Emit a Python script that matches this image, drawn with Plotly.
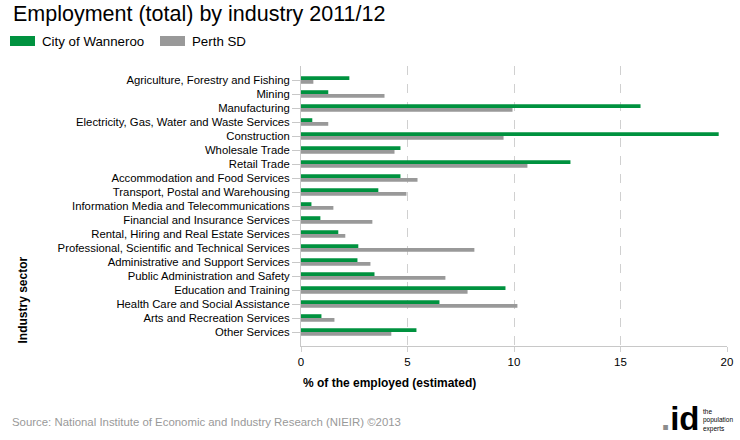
import plotly.graph_objects as go

# Données
industries = [
    "Agriculture, Forestry and Fishing",
    "Mining",
    "Manufacturing",
    "Electricity, Gas, Water and Waste Services",
    "Construction",
    "Wholesale Trade",
    "Retail Trade",
    "Accommodation and Food Services",
    "Transport, Postal and Warehousing",
    "Information Media and Telecommunications",
    "Financial and Insurance Services",
    "Rental, Hiring and Real Estate Services",
    "Professional, Scientific and Technical Services",
    "Administrative and Support Services",
    "Public Administration and Safety",
    "Education and Training",
    "Health Care and Social Assistance",
    "Arts and Recreation Services",
    "Other Services",
]
wanneroo = [2.27, 1.28, 15.94, 0.53, 19.61, 4.67, 12.65, 4.67, 3.63, 0.49,
            0.91, 1.75, 2.69, 2.65, 3.45, 9.60, 6.50, 0.96, 5.42]
perth = [0.58, 3.92, 9.93, 1.28, 9.51, 4.39, 10.63, 5.47, 4.95, 1.52,
         3.35, 2.08, 8.14, 3.26, 6.78, 7.82, 10.16, 1.57, 4.24]
series_names = ["City of Wanneroo", "Perth SD"]
x_ticks = [0, 5, 10, 15, 20]

GREEN = "#00923f"
GREY = "#999999"
FONT = "Arial, Liberation Sans, sans-serif"

# Zone de tracé (pixels) : x 301 -> 727, y 66 -> 346
PL, PR, PT, PB = 301, 727, 66, 346
PW, PH = PR - PL, PB - PT


def px_x(px):
    return (px - PL) / PW


def px_y(py):
    return (PB - py) / PH


fig = go.Figure()
for name, values, color in zip(series_names, [wanneroo, perth], [GREEN, GREY]):
    fig.add_trace(
        go.Bar(
            name=name,
            x=values,
            y=industries,
            orientation="h",
            marker=dict(color=color, line=dict(width=0)),
        )
    )

fig.update_layout(
    width=740,
    height=440,
    barmode="group",
    bargap=0.46,
    bargroupgap=0,
    showlegend=False,
    plot_bgcolor="white",
    paper_bgcolor="white",
    font=dict(family=FONT, size=11, color="#000000"),
    margin=dict(l=PL, r=740 - PR, t=PT, b=440 - PB),
    xaxis=dict(
        range=[0, 20],
        tickvals=x_ticks,
        showgrid=True,
        gridcolor="#d0d0d0",
        griddash="dash",
        zeroline=False,
        showline=True,
        linecolor="#c8c8c8",
        ticks="outside",
        ticklen=5,
        tickcolor="#d0d0d0",
        tickfont=dict(size=11.5, color="#000000"),
        automargin=False,
    ),
    yaxis=dict(
        categoryorder="array",
        categoryarray=industries,
        range=[len(industries), -1],
        showgrid=False,
        zeroline=False,
        showline=True,
        linecolor="#c8c8c8",
        ticks="outside",
        ticklen=8,
        tickcolor="#c8c8c8",
        tickfont=dict(size=11.3, color="#000000"),
        automargin=False,
    ),
)

# Titre
fig.add_annotation(
    text="Employment (total) by industry 2011/12",
    xref="paper", yref="paper", x=px_x(11), y=px_y(14),
    xanchor="left", yanchor="middle", showarrow=False,
    font=dict(size=21.5, color="#000000"),
)

# Légende manuelle (rectangles + libellés)
legend_items = [(series_names[0], GREEN, 10), (series_names[1], GREY, 160)]
for label, color, px in legend_items:
    fig.add_shape(
        type="rect", xref="paper", yref="paper",
        x0=px_x(px), x1=px_x(px + 25),
        y0=px_y(46), y1=px_y(36),
        fillcolor=color, line=dict(width=0),
    )
    fig.add_annotation(
        text=label, xref="paper", yref="paper",
        x=px_x(px + 30), y=px_y(41),
        xanchor="left", yanchor="middle", showarrow=False,
        font=dict(size=13.3, color="#000000"),
    )

# Titres des axes
fig.add_annotation(
    text="<b>% of the employed (estimated)</b>",
    xref="paper", yref="paper", x=px_x(301), y=px_y(383),
    xanchor="left", yanchor="middle", showarrow=False,
    font=dict(size=12, color="#000000"),
)
fig.add_annotation(
    text="<b>Industry sector</b>",
    xref="paper", yref="paper", x=px_x(22), y=0,
    xanchor="center", yanchor="bottom", textangle=-90, showarrow=False,
    font=dict(size=12, color="#000000"),
)

# Source
fig.add_annotation(
    text="Source: National Institute of Economic and Industry Research (NIEIR) ©2013",
    xref="paper", yref="paper", x=px_x(10), y=px_y(422),
    xanchor="left", yanchor="middle", showarrow=False,
    font=dict(size=11.4, color="#999999"),
)

# Logo .id (point gris)
fig.add_annotation(
    text="<b><span style='color:#8c8c8c'>.</span>id</b>",
    xref="paper", yref="paper", x=px_x(701), y=px_y(418),
    xanchor="right", yanchor="middle", showarrow=False,
    borderpad=0,
    font=dict(size=33, color="#000000"),
)
fig.add_annotation(
    text="the<br>population<br>experts",
    xref="paper", yref="paper", x=px_x(702), y=px_y(420),
    xanchor="left", yanchor="middle", align="left", showarrow=False,
    borderpad=0,
    font=dict(size=6.5, color="#000000"),
)

fig.write_html(
    "out.html",
    config={"displayModeBar": False},
    post_script="document.body.style.margin='0';",
)
